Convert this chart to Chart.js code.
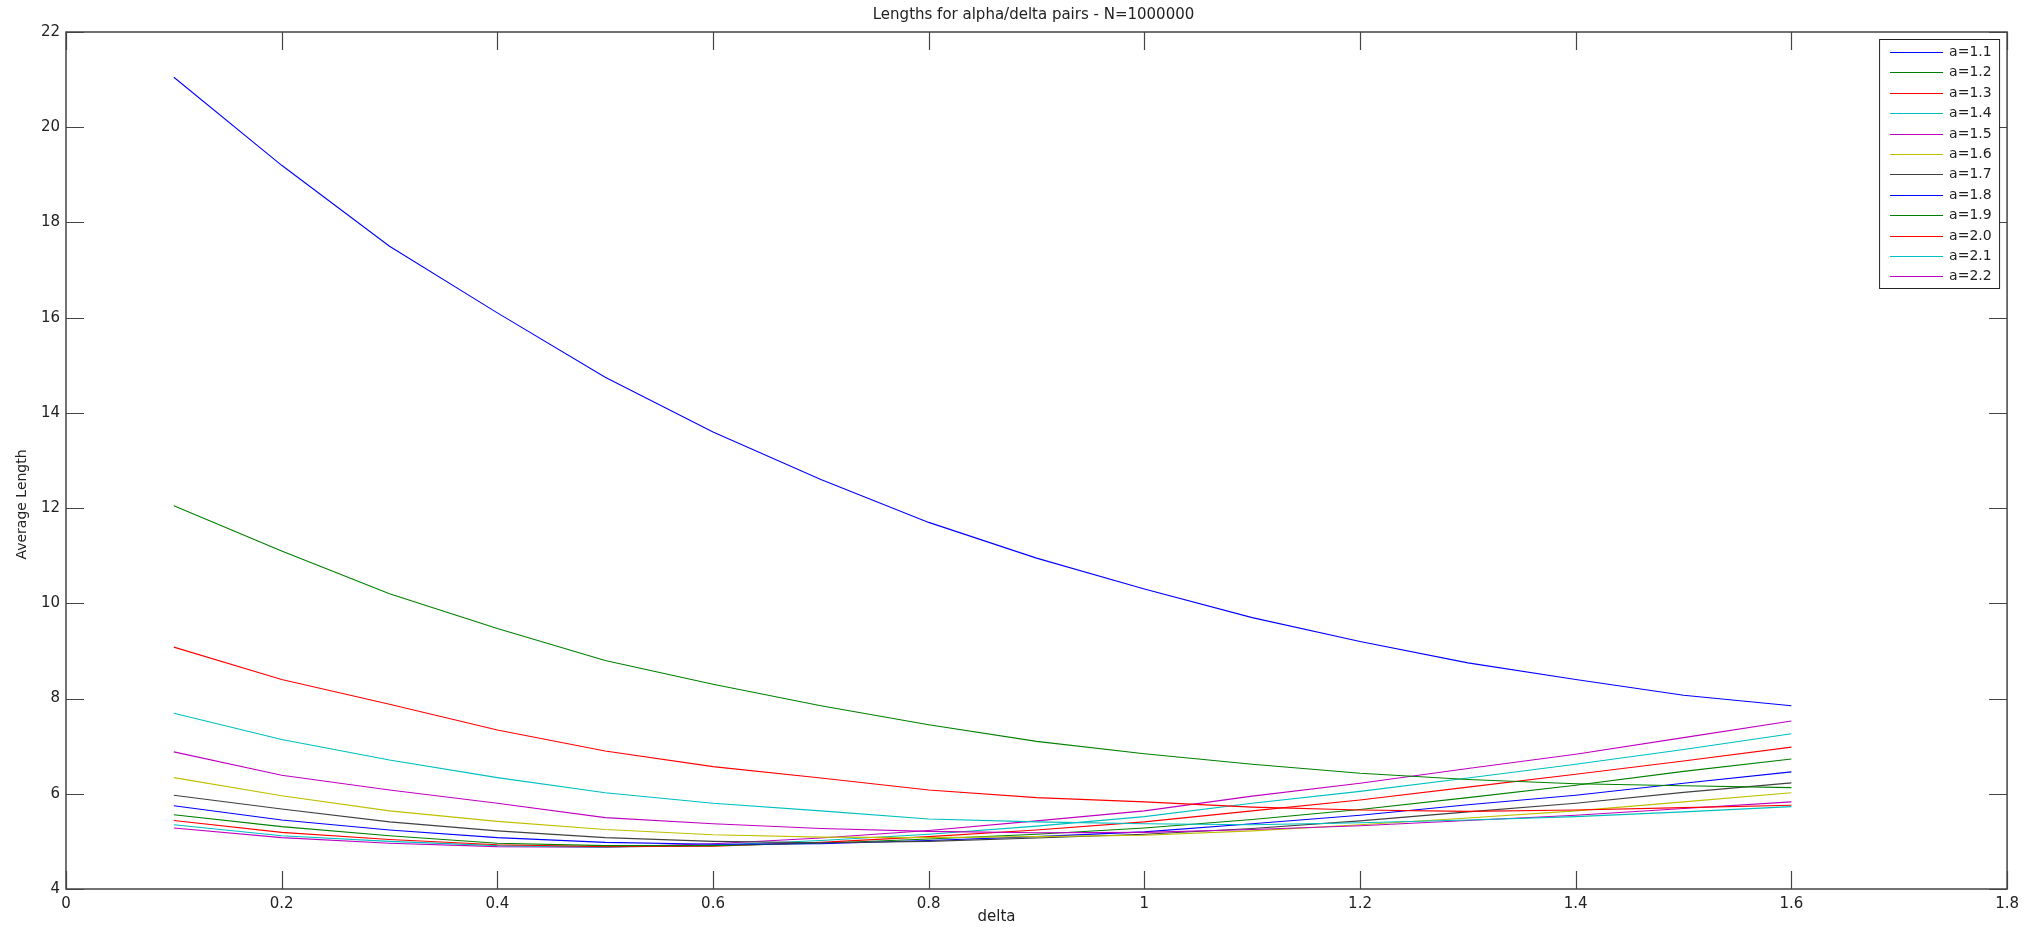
<!DOCTYPE html>
<html>
<head>
<meta charset="utf-8">
<title>Lengths for alpha/delta pairs</title>
<script src="https://cdn.jsdelivr.net/npm/chart.js@4.4.1/dist/chart.umd.min.js"></script>
<style>
  html, body { margin: 0; padding: 0; background: #fff; }
  #wrap { width: 2025px; height: 928px; }
</style>
</head>
<body>
<div id="wrap"><canvas id="chart" width="2025" height="928"></canvas></div>
<script>
// valores
const deltas = [0.1, 0.2, 0.3, 0.4, 0.5, 0.6, 0.7, 0.8, 0.9, 1.0, 1.1, 1.2, 1.3, 1.4, 1.5, 1.6];
const alphaLabels = ['a=1.1', 'a=1.2', 'a=1.3', 'a=1.4', 'a=1.5', 'a=1.6',
                     'a=1.7', 'a=1.8', 'a=1.9', 'a=2.0', 'a=2.1', 'a=2.2'];

const len11 = [21.05, 19.2, 17.5, 16.1, 14.75, 13.6, 12.6, 11.7, 10.95, 10.3, 9.7, 9.2, 8.75, 8.4, 8.07, 7.85];
const len12 = [12.05, 11.1, 10.2, 9.47, 8.8, 8.3, 7.85, 7.45, 7.1, 6.84, 6.62, 6.43, 6.3, 6.21, 6.17, 6.13];
const len13 = [9.08, 8.4, 7.88, 7.34, 6.9, 6.57, 6.33, 6.08, 5.92, 5.83, 5.72, 5.66, 5.63, 5.66, 5.71, 5.76];
const len14 = [7.69, 7.14, 6.71, 6.34, 6.02, 5.8, 5.64, 5.47, 5.41, 5.37, 5.35, 5.39, 5.45, 5.52, 5.62, 5.73];
const len15 = [6.88, 6.39, 6.08, 5.8, 5.5, 5.37, 5.27, 5.21, 5.18, 5.19, 5.25, 5.33, 5.44, 5.55, 5.69, 5.83];
const len16 = [6.34, 5.96, 5.64, 5.42, 5.25, 5.14, 5.09, 5.08, 5.1, 5.13, 5.22, 5.35, 5.49, 5.64, 5.83, 6.02];
const len17 = [5.97, 5.68, 5.41, 5.22, 5.08, 5.0, 4.97, 5.0, 5.07, 5.15, 5.27, 5.43, 5.62, 5.8, 6.03, 6.23];
const len18 = [5.75, 5.45, 5.24, 5.08, 4.98, 4.94, 4.95, 5.02, 5.1, 5.2, 5.37, 5.55, 5.77, 5.97, 6.22, 6.46];
const len19 = [5.56, 5.31, 5.12, 4.96, 4.91, 4.91, 4.96, 5.05, 5.15, 5.28, 5.46, 5.67, 5.92, 6.18, 6.47, 6.73];
const len20 = [5.44, 5.19, 5.04, 4.93, 4.89, 4.9, 4.98, 5.1, 5.24, 5.41, 5.64, 5.87, 6.14, 6.41, 6.69, 6.98];
const len21 = [5.35, 5.12, 5.0, 4.91, 4.88, 4.92, 5.02, 5.15, 5.32, 5.52, 5.8, 6.05, 6.33, 6.62, 6.93, 7.26];
const len22 = [5.28, 5.08, 4.96, 4.89, 4.88, 4.95, 5.07, 5.23, 5.43, 5.64, 5.95, 6.22, 6.53, 6.83, 7.18, 7.53];

const seriesValues = [len11, len12, len13, len14, len15, len16, len17, len18, len19, len20, len21, len22];

// orden de colores de matlab (b g r c m y k) que se repite
const lineColors = ['#0000FF', '#008000', '#FF0000', '#00BFBF', '#BF00BF', '#BFBF00', '#404040',
                    '#0000FF', '#008000', '#FF0000', '#00BFBF', '#BF00BF'];

const FONT = '"DejaVu Sans", Verdana, sans-serif';
const TEXT = '#222';

// marco, ticks hacia dentro, titulos y leyenda con caja (estilo matlab)
const matlabBox = {
  id: 'matlabBox',
  afterDraw(chart) {
    const { ctx, chartArea: a, scales } = chart;
    const x = scales.x, y = scales.y;
    const tick = 18;
    const cx = (a.left + a.right) / 2;
    const cy = (a.top + a.bottom) / 2;
    ctx.save();
    ctx.strokeStyle = '#444';
    ctx.lineWidth = 1.5;
    ctx.strokeRect(a.left, a.top, a.right - a.left, a.bottom - a.top);

    ctx.lineWidth = 1.2;
    ctx.beginPath();
    x.ticks.forEach(t => {
      const px = Math.round(x.getPixelForValue(t.value)) + 0.5;
      ctx.moveTo(px, a.bottom); ctx.lineTo(px, a.bottom - tick);
      ctx.moveTo(px, a.top); ctx.lineTo(px, a.top + tick);
    });
    y.ticks.forEach(t => {
      const py = Math.round(y.getPixelForValue(t.value)) + 0.5;
      ctx.moveTo(a.left, py); ctx.lineTo(a.left + tick, py);
      ctx.moveTo(a.right, py); ctx.lineTo(a.right - tick, py);
    });
    ctx.stroke();

    // titulos
    ctx.fillStyle = TEXT;
    ctx.textAlign = 'center';
    ctx.textBaseline = 'middle';
    ctx.font = '15px ' + FONT;
    ctx.fillText('Lengths for alpha/delta pairs - N=1000000', cx - 3, 15);
    ctx.fillText('delta', cx - 40, a.bottom + 28);
    ctx.save();
    ctx.translate(22, cy + 44);
    ctx.rotate(-Math.PI / 2);
    ctx.font = '14px ' + FONT;
    ctx.fillText('Average Length', 0, 0);
    ctx.restore();

    // leyenda
    const bx = a.right - 128, by = a.top + 7, bw = 120, bh = 249;
    ctx.fillStyle = '#fff';
    ctx.fillRect(bx, by, bw, bh);
    ctx.strokeStyle = '#222';
    ctx.lineWidth = 1;
    ctx.strokeRect(bx + 0.5, by + 0.5, bw, bh);
    ctx.font = '14px ' + FONT;
    ctx.textBaseline = 'middle';
    ctx.textAlign = 'left';
    chart.data.datasets.forEach((ds, i) => {
      const ly = Math.round(by + 13 + i * 20.4) + 0.5;
      ctx.strokeStyle = ds.borderColor;
      ctx.beginPath();
      ctx.moveTo(bx + 11, ly); ctx.lineTo(bx + 64, ly);
      ctx.stroke();
      ctx.fillStyle = TEXT;
      ctx.fillText(ds.label, bx + 70, ly);
    });
    ctx.restore();
  }
};

const datasets = seriesValues.map((vals, i) => ({
  label: alphaLabels[i],
  data: deltas.map((d, j) => ({ x: d, y: vals[j] })),
  borderColor: lineColors[i],
  backgroundColor: lineColors[i],
  borderWidth: 1.1,
  pointRadius: 0,
  tension: 0,
  fill: false
}));

new Chart(document.getElementById('chart').getContext('2d'), {
  type: 'line',
  data: { datasets },
  options: {
    responsive: false,
    animation: false,
    layout: { padding: { left: 0, right: 13, top: 32, bottom: 0 } },
    plugins: {
      legend: { display: false },
      tooltip: { enabled: false },
      title: { display: false }
    },
    scales: {
      x: {
        type: 'linear',
        min: 0, max: 1.8,
        grid: { display: false, drawTicks: false },
        border: { display: false },
        ticks: {
          stepSize: 0.2,
          padding: 6,
          color: TEXT,
          font: { family: FONT, size: 15 },
          maxRotation: 0,
          callback: v => String(Number(v.toFixed(1)))
        },
        afterFit: s => { s.height = 39; }
      },
      y: {
        min: 4, max: 22,
        grid: { display: false, drawTicks: false },
        border: { display: false },
        ticks: {
          stepSize: 2,
          padding: 6,
          color: TEXT,
          font: { family: FONT, size: 15 }
        },
        afterFit: s => { s.width = 66; }
      }
    }
  },
  plugins: [matlabBox]
});
</script>
</body>
</html>
